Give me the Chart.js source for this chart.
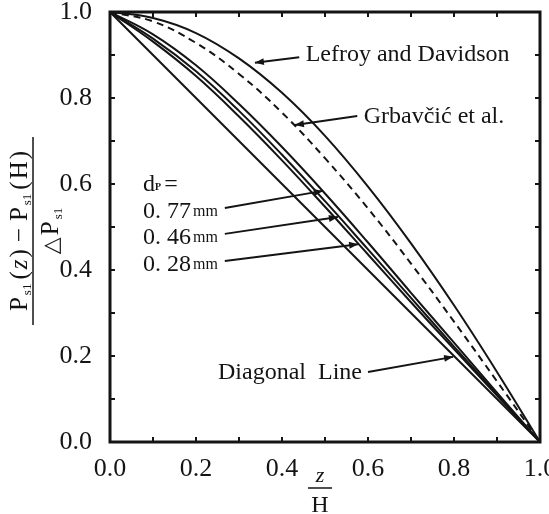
<!DOCTYPE html>
<html>
<head>
<meta charset="utf-8">
<script src="https://cdn.jsdelivr.net/npm/chart.js@4.4.1/dist/chart.umd.min.js"></script>
<style>
  html, body { margin: 0; padding: 0; background: #fff; }
  canvas { display: block; }
</style>
</head>
<body>
<canvas id="profile_chart" width="549" height="514"></canvas>
<script>
// z/H positions
const zH = [0.0, 0.1, 0.2, 0.3, 0.4, 0.5, 0.6, 0.7, 0.8, 0.9, 1.0];

// normalised pressure readings, one list per curve
const lefroyDavidson = [1.0, 0.986, 0.951, 0.892, 0.812, 0.712, 0.594, 0.462, 0.318, 0.163, 0.0];
const grbavcic = [1.0, 0.978, 0.928, 0.856, 0.766, 0.660, 0.543, 0.415, 0.280, 0.141, 0.0];
const dp077 = [1.0, 0.948, 0.876, 0.786, 0.686, 0.578, 0.464, 0.347, 0.231, 0.115, 0.0];
const dp046 = [1.0, 0.938, 0.862, 0.770, 0.668, 0.560, 0.448, 0.335, 0.222, 0.111, 0.0];
const dp028 = [1.0, 0.931, 0.851, 0.757, 0.655, 0.547, 0.436, 0.325, 0.216, 0.108, 0.0];
const diagonal = [1.0, 0.9, 0.8, 0.7, 0.6, 0.5, 0.4, 0.3, 0.2, 0.1, 0.0];

const tickLabels = ["0.0", "0.2", "0.4", "0.6", "0.8", "1.0"];

const SERIF = '"Liberation Serif", "DejaVu Serif", serif';
const INK = "#141414";

function pts(ys) {
	return zH.map((x, i) => ({ x: x, y: ys[i] }));
}

function curve(label, ys, dash) {
	return {
		label: label,
		data: pts(ys),
		borderColor: INK,
		borderWidth: 2,
		borderDash: dash || [],
		pointRadius: 0,
		fill: false,
		tension: 0.4
	};
}

// draw a run of text pieces (different sizes / offsets) one after the other
function drawRun(ctx, parts, x, y, align) {
	let total = 0;
	parts.forEach(p => {
		ctx.font = p.font;
		p.w = ctx.measureText(p.t).width + (p.gap || 0);
		total += p.w;
	});
	let cx = align === "center" ? x - total / 2 : (align === "right" ? x - total : x);
	parts.forEach(p => {
		ctx.font = p.font;
		ctx.fillText(p.t, cx, y + (p.dy || 0));
		cx += p.w;
	});
	return total;
}

function arrow(ctx, x1, y1, x2, y2) {
	ctx.beginPath();
	ctx.moveTo(x1, y1);
	ctx.lineTo(x2, y2);
	ctx.stroke();
	const ang = Math.atan2(y2 - y1, x2 - x1);
	ctx.beginPath();
	ctx.moveTo(x2, y2);
	ctx.lineTo(x2 - 9 * Math.cos(ang) + 3.5 * Math.sin(ang), y2 - 9 * Math.sin(ang) - 3.5 * Math.cos(ang));
	ctx.lineTo(x2 - 9 * Math.cos(ang) - 3.5 * Math.sin(ang), y2 - 9 * Math.sin(ang) + 3.5 * Math.cos(ang));
	ctx.closePath();
	ctx.fill();
}

const big = "24px " + SERIF;

// labels and arrows, anchored in data units
const notes = [
	{ parts: [{ t: "Lefroy and Davidson", font: big }], at: [0.455, 0.900], from: [0.440, 0.895], to: [0.337, 0.882] },
	{ parts: [{ t: "Grbavčić et al.", font: big }], at: [0.590, 0.756], from: [0.575, 0.758], to: [0.430, 0.737] },
	{ parts: [{ t: "d", font: big }, { t: "P", font: "bold 10px " + SERIF, dy: 3, gap: 3 }, { t: "=", font: big }], at: [0.077, 0.598] },
	{ parts: [{ t: "0. 77", font: big, gap: 2 }, { t: "mm", font: "16px " + SERIF }], at: [0.077, 0.535], from: [0.267, 0.544], to: [0.495, 0.584] },
	{ parts: [{ t: "0. 46", font: big, gap: 2 }, { t: "mm", font: "16px " + SERIF }], at: [0.077, 0.474], from: [0.267, 0.484], to: [0.530, 0.523] },
	{ parts: [{ t: "0. 28", font: big, gap: 2 }, { t: "mm", font: "16px " + SERIF }], at: [0.077, 0.412], from: [0.267, 0.421], to: [0.577, 0.460] },
	{ parts: [{ t: "Diagonal  Line", font: big }], at: [0.586, 0.160], align: "right", from: [0.600, 0.163], to: [0.798, 0.198] }
];

const overlay = {
	id: "overlay",
	afterDraw(chart) {
		const { ctx, chartArea: a, scales } = chart;
		const sx = scales.x, sy = scales.y;
		ctx.save();
		ctx.strokeStyle = INK;
		ctx.fillStyle = INK;

		// small inward ticks every 0.1 on all four sides
		ctx.lineWidth = 2;
		for (let i = 1; i < 10; i++) {
			const px = sx.getPixelForValue(i / 10);
			const py = sy.getPixelForValue(i / 10);
			ctx.beginPath();
			ctx.moveTo(px, a.bottom); ctx.lineTo(px, a.bottom - 5);
			ctx.moveTo(px, a.top); ctx.lineTo(px, a.top + 5);
			ctx.moveTo(a.left, py); ctx.lineTo(a.left + 5, py);
			ctx.moveTo(a.right, py); ctx.lineTo(a.right - 5, py);
			ctx.stroke();
		}

		// frame
		ctx.lineWidth = 3;
		ctx.strokeRect(a.left, a.top, a.right - a.left, a.bottom - a.top);

		// notes
		ctx.lineWidth = 2;
		ctx.textBaseline = "middle";
		notes.forEach(n => {
			const tx = sx.getPixelForValue(n.at[0]);
			const ty = sy.getPixelForValue(n.at[1]);
			drawRun(ctx, n.parts, tx, ty, n.align || "left");
			if (n.from) {
				arrow(ctx,
					sx.getPixelForValue(n.from[0]), sy.getPixelForValue(n.from[1]),
					sx.getPixelForValue(n.to[0]), sy.getPixelForValue(n.to[1]));
			}
		});

		// x title: z over H
		const xc = (a.left + a.right) / 2 - 5;
		ctx.textAlign = "center";
		ctx.textBaseline = "alphabetic";
		ctx.font = "italic 22px " + SERIF;
		ctx.fillText("z", xc, a.bottom + 40);
		ctx.lineWidth = 1.5;
		ctx.beginPath();
		ctx.moveTo(xc - 12, a.bottom + 46); ctx.lineTo(xc + 12, a.bottom + 46);
		ctx.stroke();
		ctx.font = "24px " + SERIF;
		ctx.fillText("H", xc, a.bottom + 70);

		// y title: fraction, rotated
		ctx.translate(33, 231);
		ctx.rotate(-Math.PI / 2);
		ctx.textAlign = "left";
		ctx.textBaseline = "alphabetic";
		const f = "25px " + SERIF;
		const s = "13px " + SERIF;
		drawRun(ctx, [
			{ t: "P", font: f, gap: 2 }, { t: "s1", font: s, dy: 4, gap: 4 },
			{ t: "(", font: f, gap: 2 }, { t: "z", font: "italic 25px " + SERIF, gap: 2 }, { t: ")", font: f, gap: 7 },
			{ t: "−", font: f, gap: 7 },
			{ t: "P", font: f, gap: 2 }, { t: "s1", font: s, dy: 4, gap: 4 },
			{ t: "(", font: f, gap: 2 }, { t: "H", font: f, gap: 2 }, { t: ")", font: f }
		], 0, -6, "center");
		ctx.lineWidth = 1.5;
		ctx.beginPath();
		ctx.moveTo(-94, 0); ctx.lineTo(94, 0);
		ctx.stroke();
		drawRun(ctx, [
			{ t: "△", font: "22px " + SERIF, gap: 2 }, { t: "P", font: f, gap: 2 }, { t: "s1", font: s, dy: 4 }
		], 0, 25, "center");
		ctx.restore();
	}
};

const tickFont = { family: SERIF, size: 26 };

new Chart(document.getElementById("profile_chart"), {
	type: "line",
	data: {
		datasets: [
			curve("Lefroy and Davidson", lefroyDavidson),
			curve("Grbavčić et al.", grbavcic, [7, 5]),
			curve("0.77 mm", dp077),
			curve("0.46 mm", dp046),
			curve("0.28 mm", dp028),
			curve("Diagonal Line", diagonal)
		]
	},
	options: {
		responsive: false,
		animation: false,
		devicePixelRatio: 1,
		layout: { padding: { left: 0, right: 9, top: 12, bottom: 0 } },
		plugins: { legend: { display: false }, tooltip: { enabled: false } },
		scales: {
			x: {
				type: "linear", min: 0, max: 1,
				grid: { display: false }, border: { display: false },
				ticks: {
					stepSize: 0.2, font: tickFont, color: INK, padding: 4, maxRotation: 0,
					callback: (v, i) => tickLabels[i]
				},
				afterFit(s) { s.height = 72; s.paddingLeft = 0; s.paddingRight = 0; }
			},
			y: {
				type: "linear", min: 0, max: 1,
				grid: { display: false }, border: { display: false },
				ticks: {
					stepSize: 0.2, font: tickFont, color: INK, padding: 10,
					callback: (v, i) => tickLabels[i]
				},
				afterFit(s) { s.width = 110; s.paddingTop = 0; s.paddingBottom = 0; }
			}
		}
	},
	plugins: [overlay]
});
</script>
</body>
</html>
